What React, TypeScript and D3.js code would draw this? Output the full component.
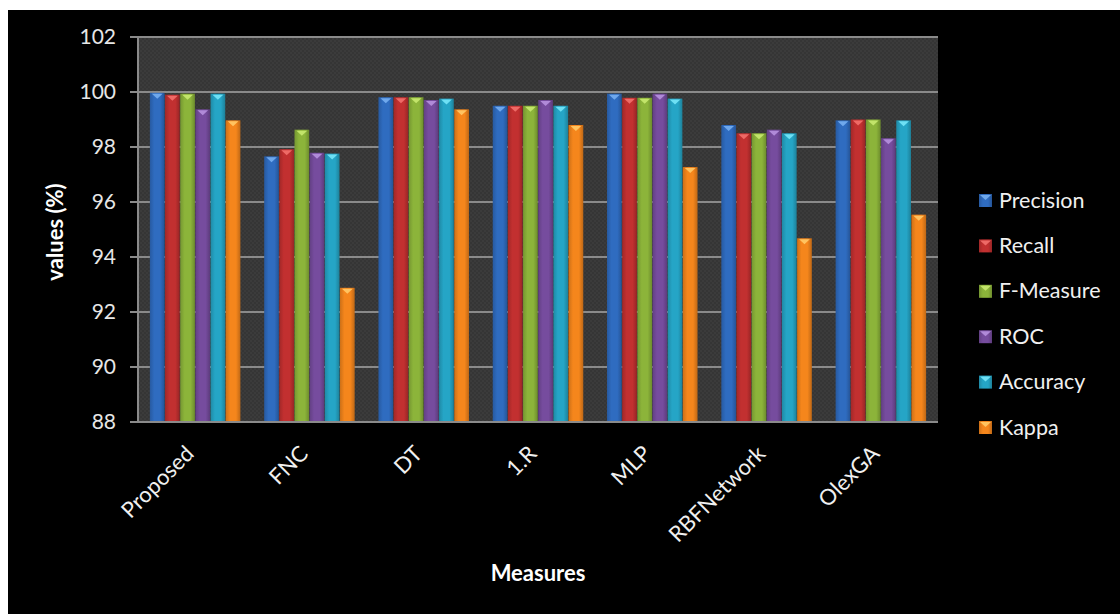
import React from "react";
import * as d3 from "d3";

const categories = ["Proposed", "FNC", "DT", "1.R", "MLP", "RBFNetwork", "OlexGA"];
const seriesNames = ["Precision", "Recall", "F-Measure", "ROC", "Accuracy", "Kappa"];
const precision = [99.97, 97.66, 99.81, 99.5, 99.94, 98.8, 98.97];
const recall = [99.9, 97.92, 99.81, 99.5, 99.79, 98.5, 99.0];
const fMeasure = [99.94, 98.63, 99.81, 99.5, 99.79, 98.5, 99.0];
const roc = [99.37, 97.79, 99.71, 99.71, 99.94, 98.63, 98.32];
const accuracy = [99.94, 97.76, 99.76, 99.5, 99.76, 98.5, 98.97];
const kappa = [98.97, 92.88, 99.37, 98.8, 97.27, 94.68, 95.54];
const yTicks = [88, 90, 92, 94, 96, 98, 100, 102];
const colors = ["#2f6cc0", "#c23030", "#8cb43a", "#764c9e", "#25a5c6", "#f5861c"];
const capColors = ["#6fa8ec", "#ee6a66", "#c2e46a", "#b08ad8", "#6ee0f4", "#ffc360"];

const seriesValues = [precision, recall, fMeasure, roc, accuracy, kappa];

export default function App() {
  const W = 1120, H = 614;
  const left = 138, right = 938, top = 37, bottom = 422;
  const x = d3.scaleBand<string>().domain(categories).range([left, right]).paddingInner(0.2).paddingOuter(0.1);
  const xi = d3.scaleBand<string>().domain(seriesNames).range([0, x.bandwidth()]).padding(0.03);
  const y = d3.scaleLinear().domain([88, 102]).range([bottom, top]);
  const font = "Lato, 'Open Sans', sans-serif";

  return (
    <svg width={W} height={H} style={{ position: "absolute", left: 0, top: 0, display: "block" }}>
      <defs>
        <pattern id="tex" width="4" height="4" patternUnits="userSpaceOnUse">
          <rect width="4" height="4" fill="#3b3b3b" />
          <rect width="2" height="2" fill="#353535" />
          <rect x="2" y="2" width="2" height="2" fill="#353535" />
        </pattern>
        {colors.map((c, i) => (
          <linearGradient key={i} id={`g${i}`} x1="0" x2="1" y1="0" y2="0">
            <stop offset="0" stopColor={d3.color(c)!.darker(0.5).toString()} />
            <stop offset="0.3" stopColor={c} />
            <stop offset="0.7" stopColor={c} />
            <stop offset="1" stopColor={d3.color(c)!.darker(0.7).toString()} />
          </linearGradient>
        ))}
      </defs>
      <rect x={0} y={0} width={W} height={H} fill="#ffffff" />
      <rect x={8} y={10} width={W - 8} height={H - 10} fill="#000000" />
      <rect x={left} y={top} width={right - left} height={bottom - top} fill="url(#tex)" />
      {yTicks.map((t) => (
        <g key={t}>
          <line x1={left - 8} x2={right} y1={y(t)} y2={y(t)} stroke="#8a8a8a" strokeWidth={2} />
          <text x={left - 22} y={y(t)} dy="0.35em" textAnchor="end" fill="#e6e6e6" fontSize={21} fontFamily={font}>
            {t}
          </text>
        </g>
      ))}
      <line x1={left} x2={left} y1={top} y2={bottom} stroke="#8a8a8a" strokeWidth={2} />
      {categories.map((cat, ci) => (
        <g key={cat}>
          {seriesNames.map((s, si) => {
            const v = seriesValues[si][ci];
            const bx = x(cat)! + xi(s)!;
            const bw = xi.bandwidth();
            const by = y(v);
            return (
              <g key={s}>
                <rect x={bx} y={by} width={bw} height={bottom - by} fill={`url(#g${si})`} />
                <path
                  d={`M${bx + 2},${by + 1} L${bx + bw - 2},${by + 1} L${bx + bw / 2},${by + 6} Z`}
                  fill={capColors[si]}
                />
              </g>
            );
          })}
          <text
            transform={`translate(${x(cat)! + x.bandwidth() / 2},${bottom + 33}) rotate(-45)`}
            textAnchor="end"
            fill="#f0f0f0"
            fontSize={22}
            fontFamily={font}
          >
            {cat}
          </text>
        </g>
      ))}
      <line x1={left - 8} x2={right} y1={bottom} y2={bottom} stroke="#8a8a8a" strokeWidth={2} />
      <text
        transform={`translate(55,${232}) rotate(-90)`}
        textAnchor="middle"
        dy="0.35em"
        fill="#ffffff"
        fontSize={22}
        fontWeight="bold"
        fontFamily={font}
      >
        values (%)
      </text>
      <text x={538} y={581} textAnchor="middle" fill="#ffffff" fontSize={22} fontWeight="bold" fontFamily={font}>
        Measures
      </text>
      {seriesNames.map((s, i) => {
        const ly = 200 + i * 45.4;
        return (
          <g key={s}>
            <rect x={979} y={ly - 6} width={13} height={13} fill={`url(#g${i})`} />
            <path d={`M${980},${ly - 5} L${991},${ly - 5} L${985.5},${ly}Z`} fill={capColors[i]} />
            <text x={999} y={ly} dy="0.35em" fill="#f0f0f0" fontSize={21.5} fontFamily={font}>
              {s}
            </text>
          </g>
        );
      })}
    </svg>
  );
}
